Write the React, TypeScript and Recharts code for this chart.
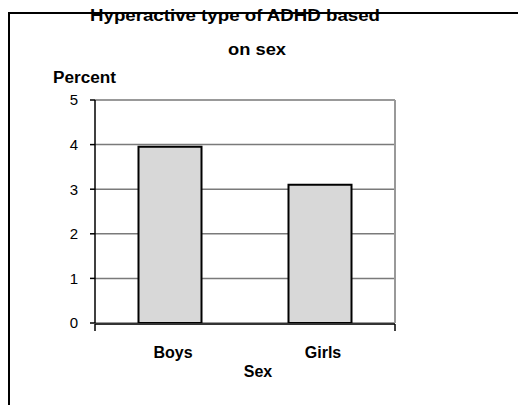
import { BarChart, Bar, XAxis, YAxis, CartesianGrid } from "recharts";

const categories = ["Boys", "Girls"];
const percents = [3.95, 3.1];
const yTicks = [0, 1, 2, 3, 4, 5];
const boundaryTicks = [0, 1, 2];

const data = categories.map((sex, i) => ({ sex, percent: percents[i] }));

const FONT = "'Liberation Sans', Arial, sans-serif";

export default function App() {
  return (
    <div style={{ position: "absolute", left: 0, top: 0, width: 518, height: 405, background: "#fff" }}>
      <BarChart
        width={518}
        height={405}
        data={data}
        margin={{ top: 99, right: 122, bottom: 51, left: 0 }}
        barCategoryGap="29%"
      >
        <CartesianGrid horizontal vertical={false} stroke="#7a7a7a" strokeWidth={1.5} />
        <XAxis
          dataKey="sex"
          height={1}
          axisLine={false}
          tickLine={false}
          tickSize={0}
          tickMargin={24}
          tick={{ fill: "#000", fontSize: 16, fontWeight: "bold", fontFamily: FONT, dx: 3 }}
        />
        <XAxis
          xAxisId="n"
          type="number"
          domain={[0, 2]}
          allowDataOverflow
          ticks={boundaryTicks}
          tickFormatter={() => ""}
          height={30}
          tickSize={7}
          axisLine={{ stroke: "#333", strokeWidth: 2 }}
          tickLine={{ stroke: "#000", strokeWidth: 1.5 }}
        />
        <XAxis
          xAxisId="top"
          orientation="top"
          dataKey="sex"
          height={1}
          tick={false}
          tickLine={false}
          axisLine={{ stroke: "#999", strokeWidth: 2 }}
        />
        <YAxis
          domain={[0, 5]}
          ticks={yTicks}
          width={95}
          tickSize={5}
          tickMargin={12}
          axisLine={{ stroke: "#000", strokeWidth: 1.5 }}
          tickLine={{ stroke: "#000", strokeWidth: 1.5 }}
          tick={{ fill: "#000", fontSize: 15, fontFamily: FONT }}
        />
        <YAxis
          yAxisId="r"
          orientation="right"
          domain={[0, 5]}
          width={1}
          tick={false}
          tickLine={false}
          axisLine={{ stroke: "#999", strokeWidth: 2 }}
        />
        <Bar dataKey="percent" fill="#d8d8d8" stroke="#000" strokeWidth={2} isAnimationActive={false} />
      </BarChart>
      <svg
        width={518}
        height={405}
        style={{ position: "absolute", left: 0, top: 0, pointerEvents: "none" }}
      >
        <line x1={8} y1={13} x2={518} y2={13} stroke="#000" strokeWidth={2} />
        <line x1={9} y1={12} x2={9} y2={405} stroke="#000" strokeWidth={2} />
        <g fontFamily={FONT} fontWeight="bold" fill="#000">
          <text x={90} y={21} fontSize={16} textLength={290} lengthAdjust="spacingAndGlyphs">
            Hyperactive type of ADHD based
          </text>
          <text x={228} y={55} fontSize={16} textLength={58} lengthAdjust="spacingAndGlyphs">
            on sex
          </text>
          <text x={53} y={83} fontSize={16} textLength={63} lengthAdjust="spacingAndGlyphs">
            Percent
          </text>
          <text x={258} y={377} fontSize={16} textAnchor="middle">
            Sex
          </text>
        </g>
      </svg>
    </div>
  );
}
